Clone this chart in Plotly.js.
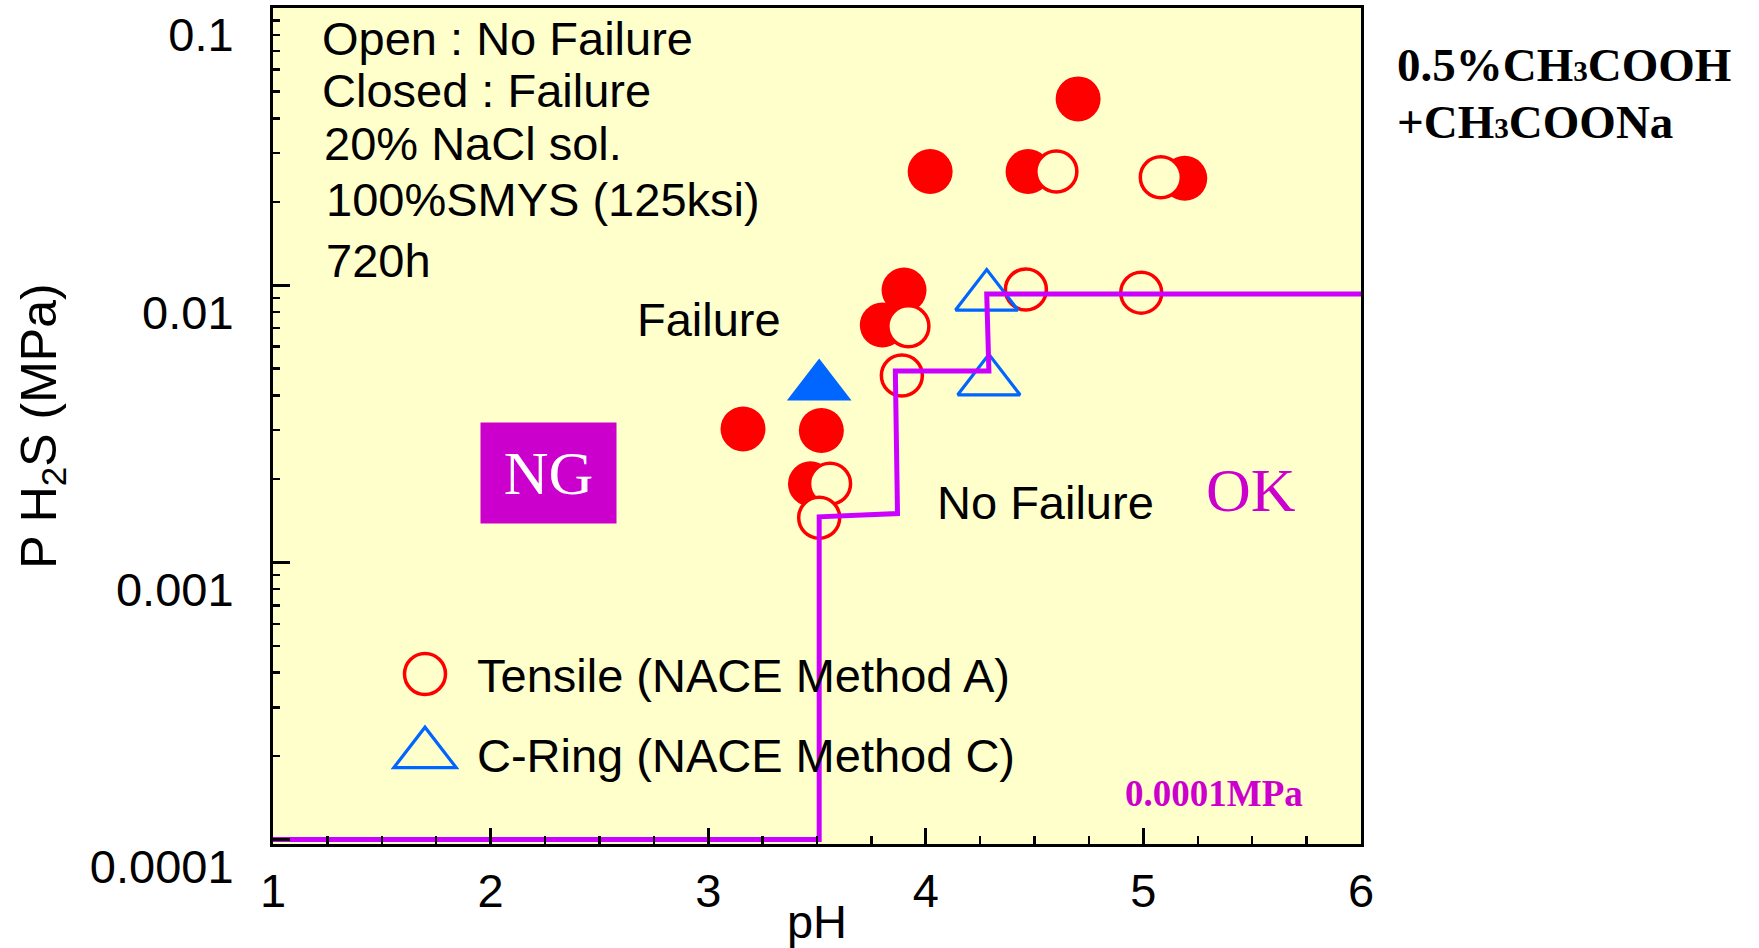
<!DOCTYPE html>
<html>
<head>
<meta charset="utf-8">
<script src="https://cdn.plot.ly/plotly-3.0.1.min.js"></script>
<style>
html,body{margin:0;padding:0;background:#ffffff;}
#chart{width:1759px;height:948px;}
</style>
</head>
<body>
<div id="chart"></div>
<script>
// ---------------- data ----------------
// Tensile (NACE Method A) specimens, closed = failure
const tensileFailPH = [3.16, 3.52, 3.47, 3.80, 3.90, 4.02, 4.47, 4.70, 5.19];
const tensileFailP  = [0.00303, 0.00299, 0.00192, 0.00718, 0.0096, 0.0257, 0.0257, 0.047, 0.0243];
// Tensile, open = no failure
const tensileOkPH = [3.56, 3.51, 3.92, 3.89, 4.46, 4.99, 4.60, 5.08];
const tensileOkP  = [0.00192, 0.00145, 0.00711, 0.00472, 0.00965, 0.0094, 0.0257, 0.0245];
// C-Ring (NACE Method C), closed = failure
const cringFailPH = [3.51];
const cringFailP  = [0.00431];
// C-Ring, open = no failure
const cringOkPH = [4.28, 4.29];
const cringOkP  = [0.0091, 0.0045];
// NG / OK boundary line
const limitPH = [1, 3.51, 3.51, 3.87, 3.86, 4.29, 4.28, 6];
const limitP  = [0.0001, 0.0001, 0.00146, 0.0015, 0.0049, 0.0049, 0.0093, 0.0093];
// axis ticks
const xTickVals = [1, 2, 3, 4, 5, 6];
const yTickVals = [0.0001, 0.001, 0.01, 0.1];
const yTickText = ['0.0001', '0.001', '0.01', '0.1'];
const yMinorDigits = [2, 3, 4, 5, 6, 7, 8, 9];
const yMinorDecades = [0.0001, 0.001, 0.01];

// ---------------- layout helpers ----------------
const W = 1759, H = 948;
const M = {l: 273, r: 398, t: 8, b: 104};
const PW = W - M.l - M.r, PHt = H - M.t - M.b;
const px = x => (x - M.l) / PW;
const py = y => (H - M.b - y) / PHt;

const ARIAL = 'Arial, "Liberation Sans", Helvetica, sans-serif';
const TIMES = '"Times New Roman", "Liberation Serif", Times, serif';
const RED = '#FF0000', BLUE = '#0066FF', VIOLET = '#CC00FF', MAGENTA = '#CC00CC', BG = '#FFFFCC';

const yMinor = [];
yMinorDecades.forEach(d => yMinorDigits.forEach(k => yMinor.push(k * d)));

const traces = [
  {x: tensileFailPH, y: tensileFailP, type: 'scatter', mode: 'markers', showlegend: false,
   legendgroup: 't', marker: {symbol: 'circle', size: 45, color: RED, line: {width: 0}}},
  {x: tensileOkPH, y: tensileOkP, type: 'scatter', mode: 'markers', name: 'Tensile (NACE Method A)',
   legendgroup: 't', marker: {symbol: 'circle', size: 41, color: BG, line: {color: RED, width: 3.5}}},
  {x: cringFailPH, y: cringFailP, type: 'scatter', mode: 'markers', showlegend: false,
   legendgroup: 'c', marker: {symbol: 'triangle-up', size: 56, color: BLUE, line: {width: 0}}},
  {x: cringOkPH, y: cringOkP, type: 'scatter', mode: 'markers', name: 'C-Ring (NACE Method C)',
   legendgroup: 'c', marker: {symbol: 'triangle-up-open', size: 54, color: BLUE, line: {color: BLUE, width: 3.2}}},
  {x: limitPH, y: limitP, type: 'scatter', mode: 'lines', showlegend: false,
   line: {color: VIOLET, width: 5}}
];

function txt(text, xpx, ypx, size, opts) {
  return Object.assign({
    text: text, xref: 'paper', yref: 'paper', x: px(xpx), y: py(ypx),
    xanchor: 'left', yanchor: 'middle', showarrow: false,
    font: {family: ARIAL, size: size, color: '#000'}
  }, opts || {});
}

const annotations = [
  txt('Open : No Failure', 320, 38, 47),
  txt('Closed : Failure', 320, 90, 47),
  txt('20% NaCl sol.', 322, 144, 47),
  txt('100%SMYS (125ksi)', 324, 200, 47),
  txt('720h', 324, 260, 47),
  txt('Failure', 635, 320, 47),
  txt('No Failure', 935, 503, 47),
  txt('OK', 1204, 490, 62, {font: {family: TIMES, size: 62, color: MAGENTA}}),
  txt('NG', 548.5, 473, 62, {xanchor: 'center', width: 135, height: 100, bgcolor: MAGENTA, borderpad: 0,
     font: {family: TIMES, size: 62, color: '#FFFFFF'}}),
  txt('0.0001MPa', 1123, 793, 37, {font: {family: TIMES, size: 37, color: MAGENTA, weight: 'bold'}}),
  txt('0.5%CH<span style="font-size:62%">3</span>COOH', 1395, 65, 47, {font: {family: TIMES, size: 47, color: '#000', weight: 'bold'}}),
  txt('+CH<span style="font-size:62%">3</span>COONa', 1395, 122, 47, {font: {family: TIMES, size: 47, color: '#000', weight: 'bold'}})
];

const layout = {
  width: W, height: H,
  margin: M,
  paper_bgcolor: '#FFFFFF',
  plot_bgcolor: BG,
  font: {family: ARIAL, size: 47, color: '#000'},
  showlegend: true,
  legend: {
    x: px(373), y: py(637), xanchor: 'left', yanchor: 'top',
    bgcolor: 'rgba(0,0,0,0)', borderwidth: 0,
    font: {family: ARIAL, size: 47, color: '#000'},
    itemwidth: 94, tracegroupgap: 16, traceorder: 'grouped'
  },
  xaxis: {
    range: [1, 6], tickmode: 'array', tickvals: xTickVals,
    ticks: 'inside', ticklen: 16, tickwidth: 3, tickcolor: '#000',
    minor: {tickmode: 'linear', tick0: 1, dtick: 0.25, ticks: 'inside', ticklen: 8, tickwidth: 2.5, tickcolor: '#000', showgrid: false},
    showline: true, linewidth: 3, linecolor: '#000', mirror: true,
    showgrid: false, zeroline: false, automargin: false,
    tickfont: {family: ARIAL, size: 47, color: '#000'},
    ticklabelstandoff: 4,
    title: {text: 'pH', font: {family: ARIAL, size: 47, color: '#000'}, standoff: 0}
  },
  yaxis: {
    type: 'log', range: [-4.016, -1],
    tickmode: 'array', tickvals: yTickVals, ticktext: yTickText,
    ticks: 'inside', ticklen: 17, tickwidth: 3, tickcolor: '#000',
    minor: {tickmode: 'array', tickvals: yMinor, ticks: 'inside', ticklen: 7, tickwidth: 2.5, tickcolor: '#000', showgrid: false},
    showline: true, linewidth: 3, linecolor: '#000', mirror: true,
    showgrid: false, zeroline: false, automargin: false,
    tickfont: {family: ARIAL, size: 47, color: '#000'},
    ticklabelstandoff: 27, ticklabelshift: 27,
    title: {text: 'P H<sub>2</sub>S (MPa)', font: {family: ARIAL, size: 50, color: '#000'}, standoff: 18}
  },
  annotations: annotations
};

Plotly.newPlot('chart', traces, layout, {staticPlot: true, displayModeBar: false}).then(gd => {
  // enlarge legend symbols to match the plotted marker size
  const wanted = [41, 54 * 1.1547];
  const strokes = [3.5, 3.2];
  gd.querySelectorAll('.legend .traces').forEach((tr, i) => {
    const p = tr.querySelector('path.scatterpts');
    if (!p || i > 1) return;
    const bb = p.getBBox();
    if (!bb.width) return;
    const k = wanted[i] / bb.width;
    const t = p.getAttribute('transform') || '';
    p.setAttribute('transform', t + ' scale(' + k + ')');
    p.style.strokeWidth = (strokes[i] / k) + 'px';
  });
});
</script>
</body>
</html>
